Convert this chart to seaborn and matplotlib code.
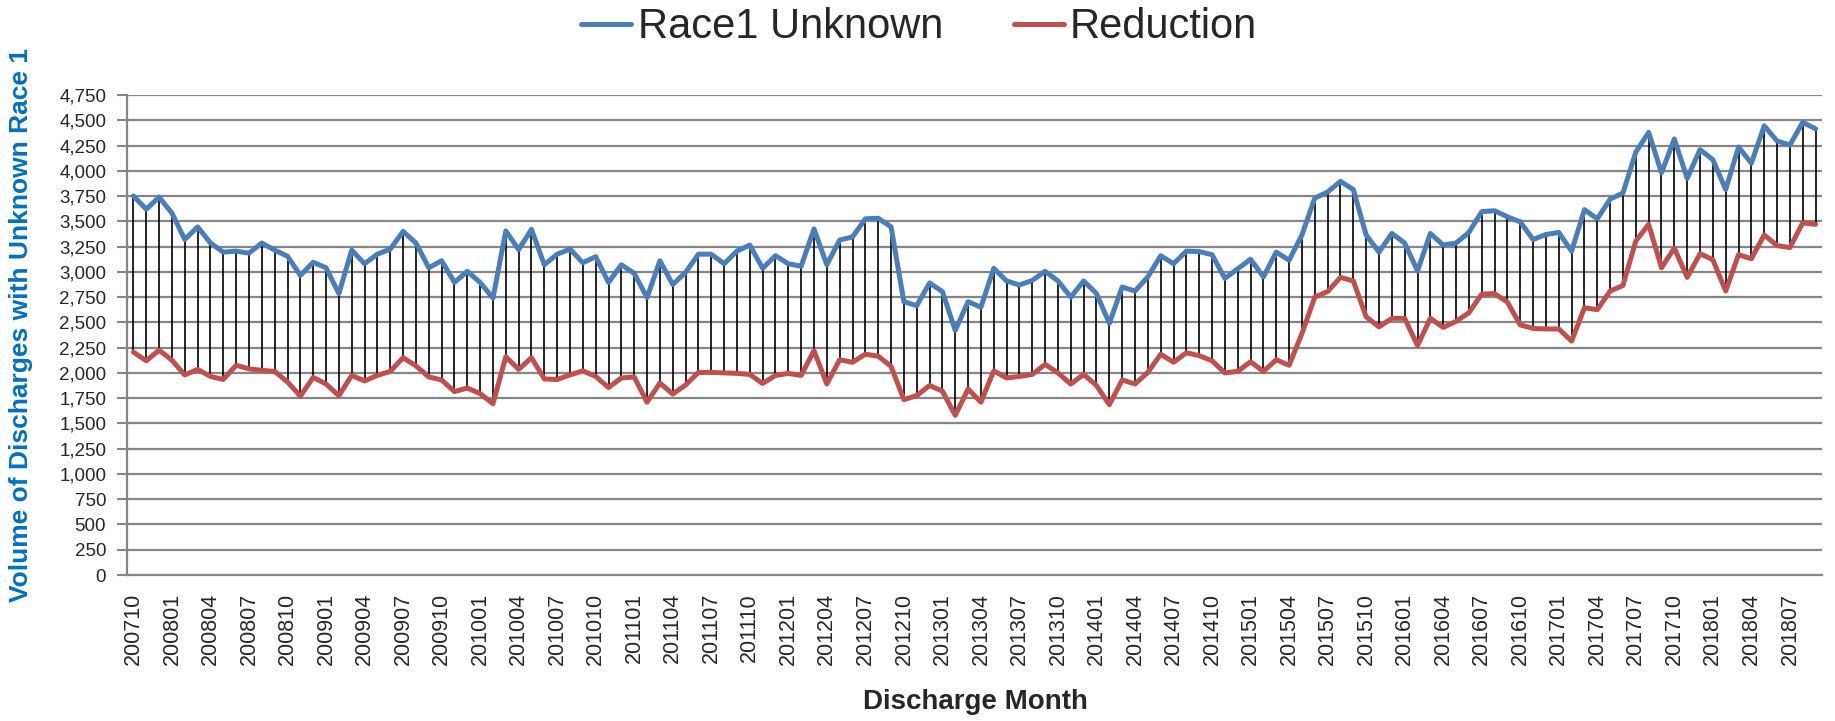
import pandas as pd
import numpy as np
import matplotlib
matplotlib.use('Agg')
import matplotlib.pyplot as plt
import seaborn as sns

# monthly discharge counts, 200710 .. 201809
months = pd.period_range('2007-10', periods=132, freq='M').strftime('%Y%m').tolist()

race1_unknown = [3750, 3620, 3740, 3580, 3320, 3445, 3285, 3195, 3205, 3185, 3285, 3215,
                 3155, 2965, 3095, 3040, 2785, 3215, 3080, 3175, 3225, 3400, 3285,
                 3040, 3110, 2895, 3005, 2895, 2740, 3405, 3220, 3420, 3070, 3175,
                 3225, 3090, 3150, 2895, 3070, 2985, 2745, 3110, 2875, 2995, 3175,
                 3175, 3080, 3205, 3265, 3035, 3160, 3080, 3055, 3425, 3070, 3315,
                 3345, 3525, 3530, 3445, 2705, 2665, 2890, 2805, 2420, 2705, 2650,
                 3035, 2910, 2870, 2915, 3005, 2910, 2750, 2910, 2785, 2490, 2850,
                 2810, 2950, 3160, 3080, 3205, 3200, 3170, 2935, 3030, 3125,
                 2950, 3195, 3115, 3365, 3730, 3790, 3895, 3815, 3365, 3195, 3380,
                 3285, 3010, 3380, 3265, 3285, 3390, 3595, 3605, 3545, 3495, 3320,
                 3370, 3390, 3205, 3615, 3525, 3720, 3780, 4185, 4380, 3980, 4315,
                 3925, 4210, 4110, 3815, 4235, 4075, 4445, 4295, 4255, 4480, 4415]

reduction = [2205, 2120, 2225, 2125, 1980, 2035, 1965, 1935, 2075, 2040, 2025, 2015,
             1910, 1770, 1955, 1890, 1775, 1975, 1920, 1975, 2015, 2150, 2070,
             1960, 1930, 1815, 1850, 1795, 1695, 2160, 2035, 2150, 1940, 1935,
             1980, 2020, 1965, 1855, 1950, 1960, 1710, 1900, 1790, 1880, 2005,
             2005, 2000, 1995, 1985, 1895, 1975, 1995, 1975, 2220, 1890, 2130,
             2105, 2185, 2165, 2065, 1735, 1775, 1875, 1820, 1580, 1840, 1710,
             2020, 1950, 1965, 1985, 2085, 2000, 1890, 1985, 1875, 1685, 1930,
             1890, 2005, 2185, 2105, 2200, 2170, 2120, 2000, 2015, 2110,
             2015, 2130, 2075, 2390, 2750, 2805, 2945, 2910, 2555, 2455, 2540,
             2540, 2270, 2540, 2450, 2510, 2595, 2780, 2785, 2700, 2475, 2440,
             2435, 2435, 2315, 2645, 2625, 2810, 2865, 3305, 3470, 3040, 3235,
             2945, 3180, 3120, 2810, 3170, 3130, 3365, 3260, 3240, 3485, 3470]

series_names = ['Race1 Unknown', 'Reduction']
yticks = list(range(0, 4751, 250))

# long format for seaborn
x = np.arange(len(months))
df = pd.DataFrame({
    'idx': np.concatenate([x, x]),
    'value': race1_unknown + reduction,
    'series': [series_names[0]] * len(x) + [series_names[1]] * len(x),
})

sns.set_style('white')
plt.rcParams['font.family'] = ['Liberation Sans', 'DejaVu Sans']

fig = plt.figure(figsize=(18.35, 7.21), dpi=100)
ax = fig.add_axes([127 / 1835, 1 - 575 / 721, 1695 / 1835, 480 / 721])

grid_col = '#868686'
for t in yticks[1:]:
    ax.axhline(t, color=grid_col, lw=1.6, zorder=0)

# high-low lines
ax.vlines(x, reduction, race1_unknown, color='black', lw=1.2, zorder=2)

sns.lineplot(data=df, x='idx', y='value', hue='series',
             palette=['#4a7ebb', '#c0504d'], lw=3.6, ax=ax, zorder=3)

handles, labels = ax.get_legend_handles_labels()
ax.get_legend().remove()
fig.legend(handles, labels, loc='center', bbox_to_anchor=(0.501, 0.962),
           ncol=2, frameon=False, fontsize=30, handlelength=1.2,
           handletextpad=0.15, columnspacing=1.7)

ax.set_xlim(-0.5, len(months) - 0.5)
ax.set_ylim(0, 4750)
ax.set_yticks(yticks)
ax.set_yticklabels([f'{v:,}' for v in yticks], fontsize=13.5)
ax.set_xticks(x[::3])
ax.set_xticklabels(months[::3], rotation=90, fontsize=15.5)
ax.tick_params(axis='y', length=7, width=1.5, color=grid_col, pad=8, direction='out', left=True)
ax.tick_params(axis='x', length=0, pad=13)

for s in ['top', 'right']:
    ax.spines[s].set_visible(False)
for s in ['left', 'bottom']:
    ax.spines[s].set_color(grid_col)
    ax.spines[s].set_linewidth(1.6)

ax.set_xlabel('')
ax.set_ylabel('')
fig.text(21 / 1835, 1 - 325 / 721, 'Volume of Discharges with Unknown Race 1',
         rotation=90, ha='center', va='center', fontsize=19, fontweight='bold',
         color='#0070c0')
fig.text(975 / 1835, 1 - 702 / 721, 'Discharge Month', ha='center', va='center',
         fontsize=20, fontweight='bold')

fig.savefig('out.png', dpi=100)
